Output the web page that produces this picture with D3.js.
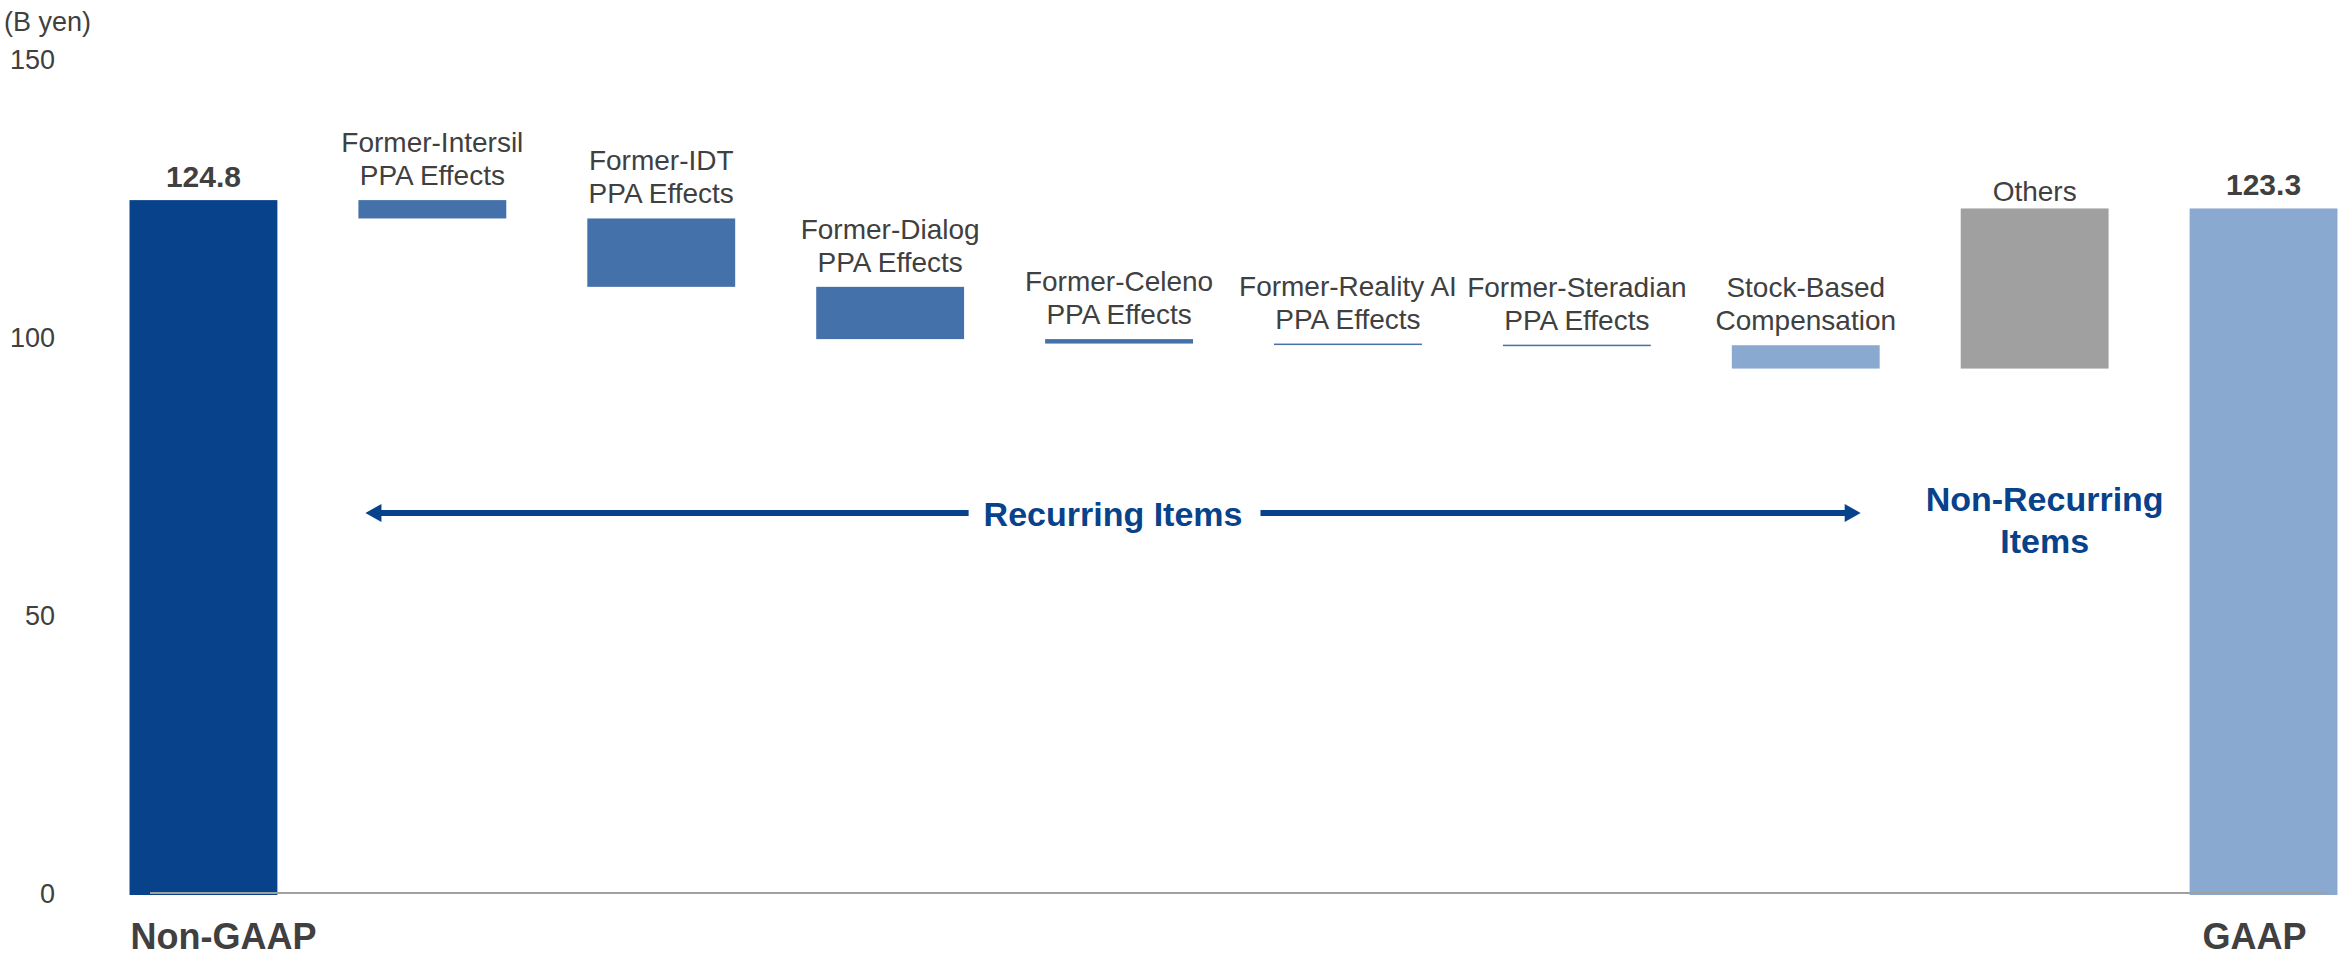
<!DOCTYPE html>
<html>
<head>
<meta charset="utf-8">
<script src="https://cdn.jsdelivr.net/npm/d3@7"></script>
<style>
  body { margin: 0; background: #fff; }
  svg { display: block; font-family: "Liberation Sans", Arial, sans-serif; }
</style>
</head>
<body>
<svg id="chart"></svg>
<script>
const categories = ["Non-GAAP", "Intersil", "IDT", "Dialog", "Celeno", "Reality AI", "Steradian", "SBC", "Others", "GAAP"]
const labelLines = [
  [],
  ["Former-Intersil", "PPA Effects"],
  ["Former-IDT", "PPA Effects"],
  ["Former-Dialog", "PPA Effects"],
  ["Former-Celeno", "PPA Effects"],
  ["Former-Reality AI", "PPA Effects"],
  ["Former-Steradian", "PPA Effects"],
  ["Stock-Based", "Compensation"],
  ["Others"],
  [],
]
const values = [124.8, -3.3, -12.3, -9.4, -0.8, -0.2, -0.1, -4.2, 28.8, 123.3]
const kinds = ["total", "step", "step", "step", "step", "step", "step", "step", "step", "total"]
const yTicks = [0, 50, 100, 150]

const colors = {
  "Non-GAAP": "#07428a",
  SBC: "#8aa9d0",
  Others: "#a0a0a0",
  GAAP: "#8aa9d0",
}
const stepColor = "#4471a9"
const textGray = "#404040"
const blue = "#07428a"

const w = 2338
const h = 956

const svg = d3.select("#chart").attr("width", w).attr("height", h)

// running totals for the waterfall
let run = 0
const bars = categories.map((c, i) => {
  let lo, hi
  if (kinds[i] === "total") {
    lo = 0
    hi = values[i]
    run = values[i]
  } else {
    const next = run + values[i]
    lo = Math.min(run, next)
    hi = Math.max(run, next)
    run = next
  }
  return { cat: c, lo, hi, lines: labelLines[i], kind: kinds[i], value: values[i] }
})

const x = d3.scaleBand().domain(categories).range([89, 2378]).paddingInner(0.354).paddingOuter(0.177)
const y = d3.scaleLinear().domain([0, 150]).range([894, 60])

// y axis labels
const yAxis = d3.axisLeft(y).tickValues(yTicks).tickSize(0).tickPadding(0)
const gy = svg.append("g").attr("transform", "translate(55,0)").call(yAxis)
gy.select(".domain").remove()
gy.selectAll("text").attr("font-size", 27).attr("fill", textGray).attr("font-family", "Liberation Sans, Arial, sans-serif")

svg.append("text")
  .attr("x", 4).attr("y", 31)
  .attr("font-size", 27).attr("fill", textGray)
  .text("(B yen)")

// bars
svg.selectAll("rect.bar")
  .data(bars)
  .enter()
  .append("rect")
  .attr("class", "bar")
  .attr("x", (d) => x(d.cat))
  .attr("width", x.bandwidth())
  .attr("y", (d) => y(d.hi))
  .attr("height", (d) => {
    const base = d.kind === "total" ? y(0) + 1 : y(d.lo)
    return Math.max(1.5, base - y(d.hi))
  })
  .attr("fill", (d) => colors[d.cat] || stepColor)

// baseline
svg.append("line")
  .attr("x1", 150).attr("x2", 2327)
  .attr("y1", y(0) - 1).attr("y2", y(0) - 1)
  .attr("stroke", "#a0a0a0").attr("stroke-width", 2)

// category labels above bars
bars.filter((d) => d.lines.length).forEach((d) => {
  const cx = x(d.cat) + x.bandwidth() / 2
  const base = y(d.hi) - (d.lines.length > 1 ? 15 : 7)
  const t = svg.append("text")
    .attr("text-anchor", "middle")
    .attr("font-size", 28)
    .attr("fill", textGray)
  d.lines.forEach((ln, j) => {
    t.append("tspan")
      .attr("x", cx)
      .attr("y", base - (d.lines.length - 1 - j) * 33)
      .text(ln)
  })
})

// total value labels
bars.filter((d) => d.kind === "total").forEach((d) => {
  svg.append("text")
    .attr("x", x(d.cat) + x.bandwidth() / 2)
    .attr("y", y(d.hi) - 13)
    .attr("text-anchor", "middle")
    .attr("font-size", 30)
    .attr("font-weight", "bold")
    .attr("fill", textGray)
    .text(d3.format(".1f")(d.value))
})

// bottom category names
svg.append("text")
  .attr("x", x("Non-GAAP") + 1).attr("y", 949)
  .attr("font-size", 36).attr("font-weight", "bold").attr("fill", textGray)
  .text("Non-GAAP")
svg.append("text")
  .attr("x", x("GAAP") + x.bandwidth() / 2 - 9).attr("y", 949)
  .attr("text-anchor", "middle")
  .attr("font-size", 36).attr("font-weight", "bold").attr("fill", textGray)
  .text("GAAP")

// recurring items arrow
const ay = 513
const ax1 = x("Intersil") + 7
const ax2 = x("SBC") + x.bandwidth() - 19
const amid = (ax1 + ax2) / 2
const label = svg.append("text")
  .attr("x", amid).attr("y", ay + 13)
  .attr("text-anchor", "middle")
  .attr("font-size", 34).attr("font-weight", "bold").attr("fill", blue)
  .text("Recurring Items")
const half = label.node().getComputedTextLength() / 2
svg.append("line")
  .attr("x1", ax1 + 14).attr("x2", amid - half - 15)
  .attr("y1", ay).attr("y2", ay)
  .attr("stroke", blue).attr("stroke-width", 6)
svg.append("line")
  .attr("x1", amid + half + 18).attr("x2", ax2 - 14)
  .attr("y1", ay).attr("y2", ay)
  .attr("stroke", blue).attr("stroke-width", 6)
svg.append("path")
  .attr("d", `M${ax1},${ay} L${ax1 + 16},${ay - 9} L${ax1 + 16},${ay + 9} Z`)
  .attr("fill", blue)
svg.append("path")
  .attr("d", `M${ax2},${ay} L${ax2 - 16},${ay - 9} L${ax2 - 16},${ay + 9} Z`)
  .attr("fill", blue)

// non-recurring label
const nx = x("Others") + x.bandwidth() / 2 + 10
const nr = svg.append("text")
  .attr("text-anchor", "middle")
  .attr("font-size", 34).attr("font-weight", "bold").attr("fill", blue)
nr.append("tspan").attr("x", nx).attr("y", 511).text("Non-Recurring")
nr.append("tspan").attr("x", nx).attr("y", 553).text("Items")
</script>
</body>
</html>
